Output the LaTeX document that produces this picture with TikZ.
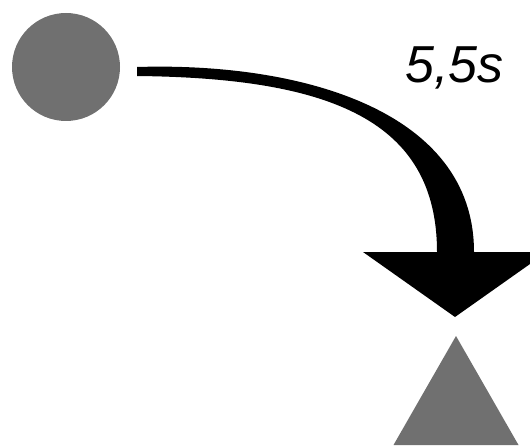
\documentclass[tikz,border=0pt]{standalone}
\usepackage{fontspec}
\setmainfont{Liberation Sans}
\definecolor{shapegray}{RGB}{112,112,112}
\begin{document}
\begin{tikzpicture}[x=1pt,y=1pt,
  shapefill/.style={fill=shapegray,draw=none},
  arrowfill/.style={fill=black,draw=none}]
\useasboundingbox (0,0) rectangle (530,445);
\clip (0,0) rectangle (530,445);
% circle
\node[shapefill,circle,minimum size=108pt,inner sep=0pt] (start) at (66,378) {};
% triangle
\coordinate (apex) at (456,109);
\fill[shapegray] (apex) -- (393.5,0) -- (518.5,0) -- cycle;
% tapered curved arrow
\coordinate (s1) at (137,378);
\coordinate (s2) at (137,369);
\fill[black] (s1) .. controls (300,383) and (474,335) .. (474,193)
  -- (547,193) -- (455,128) -- (363,193) -- (437,193)
  .. controls (437,325) and (330,367) .. (s2) -- cycle;
% label
\node[anchor=base west,inner sep=0pt,font=\fontsize{52}{60}\selectfont\itshape] (lbl) at (405,362) {5,5s};
\end{tikzpicture}
\end{document}
